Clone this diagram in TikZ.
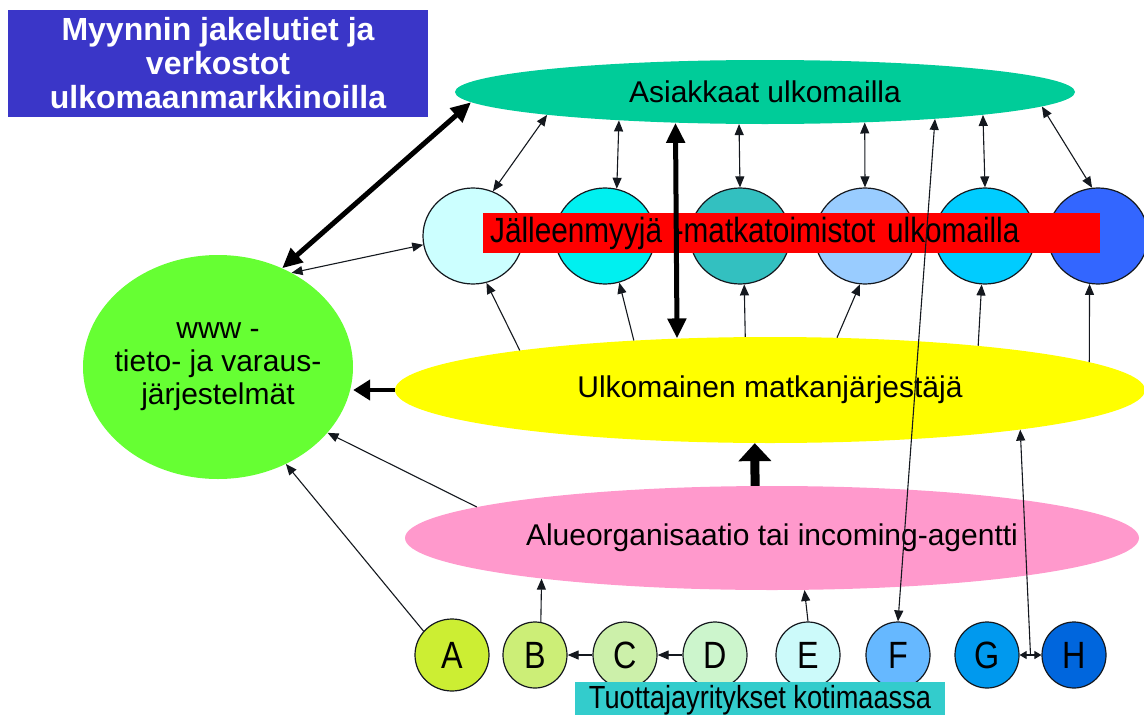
\documentclass[tikz,border=0pt]{standalone}
\usepackage{fontspec}
\setmainfont{Liberation Sans}
\newfontfamily\narrowfont{Liberation Sans}[FakeStretch=0.85]
\usetikzlibrary{shapes.geometric,arrows.meta,calc}
\definecolor{fgColor}{HTML}{14181e}
\definecolor{titleBlue}{HTML}{3a36c8}
\definecolor{custGreen}{HTML}{00cc99}
\definecolor{wwwGreen}{HTML}{66ff33}
\definecolor{orgYellow}{HTML}{ffff00}
\definecolor{agentPink}{HTML}{ff99cc}
\definecolor{homeTeal}{HTML}{33cccc}

\begin{document}
\begin{tikzpicture}[x=1pt,y=1pt,yscale=-1,
	oval/.style={ellipse, inner sep=0pt, font=\fontsize{30}{32}\selectfont},
	agent/.style={ellipse, draw=fgColor, line width=1.2pt, minimum width=100pt, minimum height=96pt, inner sep=0pt},
	firm/.style={ellipse, draw=fgColor, line width=1.2pt, minimum width=64pt, minimum height=66pt, inner sep=0pt, font=\narrowfont\fontsize{38}{38}\selectfont},
	link/.style={fgColor, line width=1.1pt, -{Triangle[length=11pt,width=9pt]}},
	both/.style={fgColor, line width=1.1pt, {Triangle[length=11pt,width=9pt]}-{Triangle[length=11pt,width=9pt]}},
	short/.style={fgColor, line width=1.1pt, {Triangle[length=7pt,width=8pt]}-{Triangle[length=7pt,width=8pt]}},
	bigLink/.style={black, line width=5pt, {Triangle[length=20pt,width=18pt]}-{Triangle[length=20pt,width=18pt]}},
	heavyArrow/.style={black, line width=4.5pt, -{Triangle[length=17pt,width=20pt]}},
	blockArrow/.style={black, line width=9pt, -{Triangle[length=18pt,width=32pt]}}]
	\useasboundingbox (0,0) rectangle (1144,715);

	% Title
	\node [fill=titleBlue, minimum width=420pt, minimum height=107pt, inner sep=0pt, text=white, align=center, font=\bfseries\fontsize{32}{34}\selectfont] (title) at (218,63.5) {Myynnin jakelutiet ja\\verkostot\\ulkomaanmarkkinoilla};

	% Ellipses
	\node [oval, fill=custGreen, minimum width=620pt, minimum height=64pt] (cust) at (765,92) {Asiakkaat ulkomailla};
	\node [oval, fill=wwwGreen, minimum width=270pt, minimum height=224pt, label={[align=center, font=\fontsize{30}{33}\selectfont]center:www -\\tieto- ja varaus-\\järjestelmät}] (www) at (218,367) {};
	\node [oval, fill=orgYellow, minimum width=750pt, minimum height=106pt] (yellow) at (770,390) {Ulkomainen matkanjärjestäjä};
	\node [oval, fill=agentPink, minimum width=734pt, minimum height=104pt] (pink) at (772,538) {Alueorganisaatio tai incoming-agentti};

	% Resellers abroad
	\node [agent, fill={rgb,255:red,204;green,255;blue,255}] (r1) at (473,236) {};
	\node [agent, fill={rgb,255:red,0;green,240;blue,240}] (r2) at (605,236) {};
	\node [agent, fill={rgb,255:red,51;green,192;blue,192}] (r3) at (740,236) {};
	\node [agent, fill={rgb,255:red,153;green,204;blue,255}] (r4) at (865,236) {};
	\node [agent, fill={rgb,255:red,0;green,204;blue,255}] (r5) at (985,236) {};
	\node [agent, fill={rgb,255:red,51;green,102;blue,255}] (r6) at (1098,236) {};
	\node [fill=red, anchor=west, minimum width=617pt, minimum height=40pt, text width=603pt, inner xsep=7pt, align=left, font=\narrowfont\fontsize{35}{36}\selectfont] (resale) at (483,233) {Jälleenmyyjä -matkatoimistot ulkomailla};

	% Home producers
	\node [firm, fill={rgb,255:red,204;green,238;blue,51}, minimum width=74pt, minimum height=72pt] (A) at (452,655) {A};
	\node [firm, fill={rgb,255:red,204;green,238;blue,119}] (B) at (535,655) {B};
	\node [firm, fill={rgb,255:red,204;green,240;blue,170}] (C) at (625,655) {C};
	\node [firm, fill={rgb,255:red,204;green,245;blue,204}] (D) at (715,655) {D};
	\node [firm, fill={rgb,255:red,204;green,250;blue,250}] (E) at (808,655) {E};
	\node [firm, fill={rgb,255:red,102;green,184;blue,255}] (F) at (898,655) {F};
	\node [firm, fill={rgb,255:red,0;green,153;blue,238}] (G) at (987,655) {G};
	\node [firm, fill={rgb,255:red,0;green,102;blue,221}] (H) at (1074,655) {H};
	\node [fill=homeTeal, minimum width=370pt, minimum height=36pt, inner sep=0pt, font=\narrowfont\fontsize{32}{32}\selectfont] (home) at (760,700) {Tuottajayritykset kotimaassa};
	\coordinate (gh) at ($(G.east)!0.5!(H.west)$);

	% Thick Arrows
	\draw [bigLink] (www.57) -- (cust.182);
	\draw [bigLink] (cust.199) -- (yellow.151.4);
	\draw [heavyArrow] (yellow.west) -- (yellow.west -| www.east);
	\draw [blockArrow] (pink.108) -- (yellow.254.2);

	% Thin Arrows
	\foreach \a/\n/\b in {186/r1/66, 191.7/r2/76, 231.9/r3/90, 343.1/r4/90, 354.2/r5/90, 357.5/r6/97}
		\draw [both] (cust.\a) -- (\n.\b);
	\foreach \a/\n/\b in {171.9/r1/286, 160.2/r2/287, 115.3/r3/275, 38.8/r4/264, 12.9/r5/266, 5.8/r6/260}
		\draw [link] (yellow.\a) -- (\n.\b);
	\draw [both] (www.52) -- (r1.190);
	\draw [link] (pink.174) -- (www.329.5);
	\draw [link] (A.140) -- (www.305.8);
	\draw [link] (B.80) -- (pink.190.2);
	\draw [link] (E.north) -- (pink.302.5);
	\draw [link] (C.west) -- (B.east);
	\draw [link] (D.west) -- (C.east);
	\draw [both] (F.north) -- (cust.351);
	\draw [short] (G.east) -- (H.west);
	\draw [link] (gh) -- (yellow.351.2);
\end{tikzpicture}
\end{document}
